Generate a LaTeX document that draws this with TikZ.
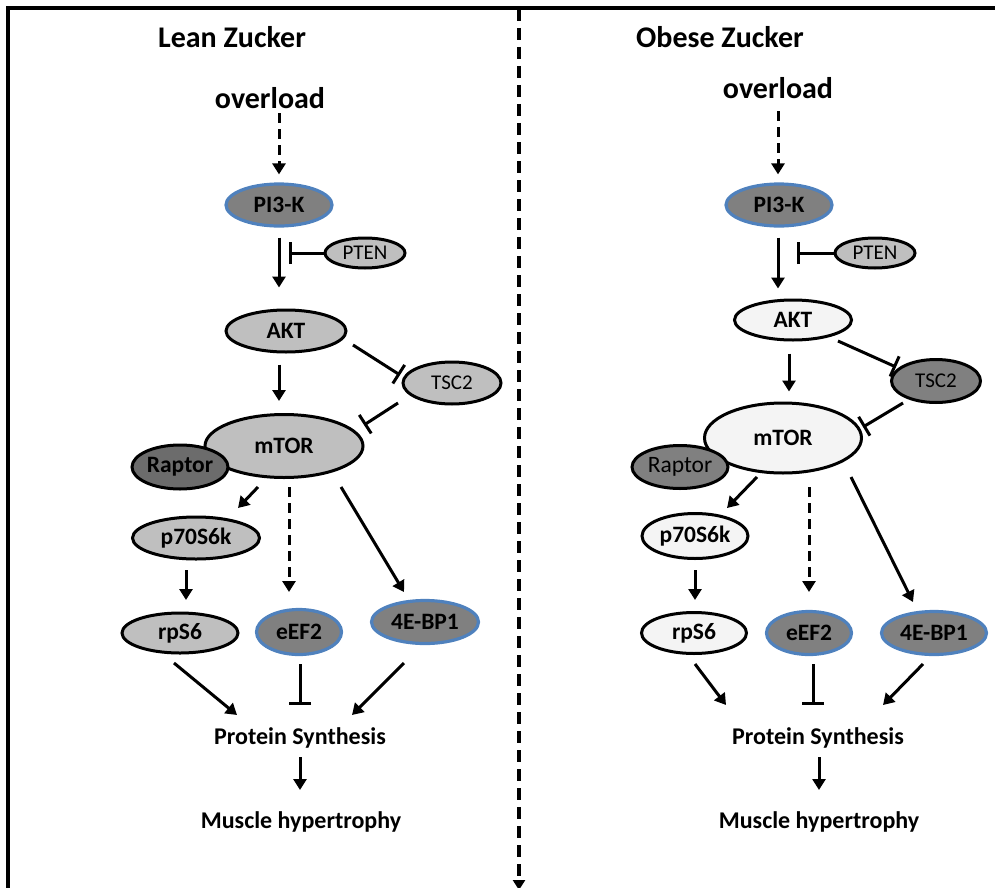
\documentclass[tikz,border=0pt]{standalone}
\usepackage{fontspec}
\setmainfont{Carlito}
\usetikzlibrary{shapes.geometric,arrows.meta,calc}
\definecolor{gdark}{RGB}{128,128,128}
\definecolor{graptor}{RGB}{108,108,108}
\definecolor{glight}{RGB}{191,191,191}
\definecolor{gwhite}{RGB}{244,244,244}
\definecolor{blueB}{RGB}{79,129,189}
\tikzset{
  ell/.style={ellipse, draw=black, line width=3pt, inner sep=0pt, font=\fontsize{23.5}{26}\selectfont\bfseries},
  bluell/.style={ell, draw=blueB, line width=3.2pt, fill=gdark},
  lightell/.style={ell, fill=glight},
  whiteell/.style={ell, fill=gwhite},
  smallell/.style={ell, fill=glight, font=\fontsize{21}{23}\selectfont},
  title/.style={font=\fontsize{30}{34}\selectfont\bfseries},
  lbl/.style={font=\fontsize{24}{26}\selectfont\bfseries},
  arr/.style={line width=3pt, -{Triangle[width=13pt,length=11pt]}},
  darr/.style={arr, dash pattern=on 10pt off 6pt},
  inh/.style={line width=3pt, -{Bar[width=22pt,line width=3pt]}},
}
\begin{document}
\begin{tikzpicture}[x=1pt,y=-1pt]
\useasboundingbox (0,0) rectangle (995,888);
\begin{scope}
\clip (0,0) rectangle (995,888);
\draw[line width=3.4pt] (8,8) rectangle (1010,900);
% divider
\coordinate (dtop) at (519,9);
\coordinate (dbot) at (519,890);
\draw[line width=3.4pt, dash pattern=on 12pt off 7pt, -{Triangle[width=12pt,length=10pt]}] (dtop) -- (dbot);
\end{scope}

% ---------------- LEFT: Lean Zucker ----------------
\node[title] (t1) at (232,37) {Lean Zucker};
\node[title] (ov1) at (270,98) {overload};
\node[bluell, minimum width=106pt, minimum height=42pt] (pi3k1) at (279,205) {PI3-K};
\node[smallell, minimum width=80pt, minimum height=30pt] (pten1) at (365,253) {PTEN};
\node[lightell, minimum width=120pt, minimum height=42pt] (akt1) at (286,331) {AKT};
\node[smallell, minimum width=98pt, minimum height=42pt] (tsc1) at (452,383) {TSC2};
\node[lightell, minimum width=158pt, minimum height=63pt] (mtor1) at (284,446) {mTOR};
\node[ell, fill=graptor, minimum width=96pt, minimum height=44pt] (rap1) at (180,467) {Raptor};
\node[lightell, minimum width=127pt, minimum height=42pt] (p701) at (196,538) {p70S6k};
\node[lightell, minimum width=116pt, minimum height=40pt] (rps1) at (180,633) {rpS6};
\node[bluell, minimum width=85pt, minimum height=45pt] (eef1) at (299,632) {eEF2};
\node[bluell, minimum width=107pt, minimum height=43pt] (bp1) at (425,622) {4E-BP1};
\node[lbl] (ps1) at (300,738) {Protein Synthesis};
\node[lbl] (mh1) at (301,822) {Muscle hypertrophy};

\coordinate (a1s) at ($(akt1.south)+(-7,0)$);
\coordinate (a1e) at (a1s |- mtor1.north);
\draw[darr, shorten >=8pt] ($(pi3k1.north)+(0,-69)$) -- (pi3k1.north);
\draw[arr, shorten <=10pt, shorten >=21pt] (pi3k1.south) -- (pi3k1.south |- akt1.north);
\draw[inh] (pten1.west) -- ($(pten1.west)+(-35,0)$);
\draw[arr, shorten <=11pt, shorten >=12pt] (a1s) -- (a1e);
\draw[inh] ($(akt1)+(67,14)$) -- ($(tsc1)+(-52,-8)$);
\draw[inh] ($(tsc1)+(-54,20)$) -- ($(mtor1)+(80,-21)$);
\draw[arr] ($(mtor1)+(-26,41)$) -- ($(p701)+(42,-30)$);
\draw[darr] ($(mtor1)+(5,41)$) -- ($(eef1)+(-10,-40)$);
\draw[arr] ($(mtor1)+(57,41)$) -- ($(bp1)+(-21,-30)$);
\draw[arr] ($(p701)+(-10,32)$) -- ($(rps1)+(6,-33)$);
\draw[arr] ($(rps1)+(-6,30)$) -- ($(ps1)+(-63,-23)$);
\draw[inh] ($(eef1)+(1,32)$) -- ($(ps1)+(0,-33)$);
\draw[arr] ($(bp1)+(-21,41)$) -- ($(ps1)+(52,-23)$);
\draw[arr] ($(ps1)+(0,19)$) -- ($(mh1)+(-1,-32)$);

% ---------------- RIGHT: Obese Zucker ----------------
\node[title] (t2) at (720,37) {Obese Zucker};
\node[title] (ov2) at (778,88) {overload};
\node[bluell, minimum width=106pt, minimum height=42pt] (pi3k2) at (779,205) {PI3-K};
\node[smallell, minimum width=80pt, minimum height=30pt] (pten2) at (875,253) {PTEN};
\node[whiteell, minimum width=117pt, minimum height=40pt] (akt2) at (793,320) {AKT};
\node[smallell, fill=gdark, minimum width=89pt, minimum height=43pt] (tsc2) at (936,381) {TSC2};
\node[whiteell, minimum width=157pt, minimum height=70pt] (mtor2) at (783,438) {mTOR};
\node[ell, fill=gdark, font=\fontsize{23.5}{26}\selectfont, minimum width=96pt, minimum height=43pt] (rap2) at (680,467) {Raptor};
\node[whiteell, minimum width=106pt, minimum height=45pt] (p702) at (695,536) {p70S6k};
\node[whiteell, minimum width=105pt, minimum height=41pt] (rps2) at (694,633) {rpS6};
\node[bluell, minimum width=85pt, minimum height=43pt] (eef2) at (809,633) {eEF2};
\node[bluell, minimum width=105pt, minimum height=43pt] (bp2) at (934,633) {4E-BP1};
\node[lbl] (ps2) at (818,738) {Protein Synthesis};
\node[lbl] (mh2) at (819,822) {Muscle hypertrophy};

\coordinate (p2s) at ($(pi3k2.south)+(-1,0)$);
\coordinate (p2e) at (p2s |- akt2.north);
\coordinate (o2s) at ($(pi3k2.north)+(-1,-71)$);
\coordinate (o2e) at ($(pi3k2.north)+(-1,0)$);
\coordinate (a2s) at ($(akt2.south)+(-4,0)$);
\coordinate (a2e) at (a2s |- mtor2.north);
\draw[darr, shorten >=8pt] (o2s) -- (o2e);
\draw[arr, shorten <=10pt, shorten >=10pt] (p2s) -- (p2e);
\draw[inh] (pten2.west) -- ($(pten2.west)+(-37,0)$);
\draw[arr, shorten <=12pt, shorten >=10pt] (a2s) -- (a2e);
\draw[inh] ($(akt2)+(45,21)$) -- ($(tsc2)+(-40,-14)$);
\draw[inh] ($(tsc2)+(-33,22)$) -- ($(mtor2)+(80,-11)$);
\draw[arr] ($(mtor2)+(-26,39)$) -- ($(p702)+(32,-28)$);
\draw[darr] ($(mtor2)+(26,49)$) -- ($(eef2)+(0,-41)$);
\draw[arr] ($(mtor2)+(68,39)$) -- ($(bp2)+(-21,-31)$);
\draw[arr] ($(p702)+(0,34)$) -- ($(rps2)+(1,-33)$);
\draw[arr] ($(rps2)+(1,31)$) -- ($(ps2)+(-92,-33)$);
\draw[inh] ($(eef2)+(4,31)$) -- ($(ps2)+(-5,-33)$);
\draw[arr] ($(bp2)+(-11,31)$) -- ($(ps2)+(65,-33)$);
\draw[arr] ($(ps2)+(1,19)$) -- ($(mh2)+(0,-32)$);
\end{tikzpicture}
\end{document}
